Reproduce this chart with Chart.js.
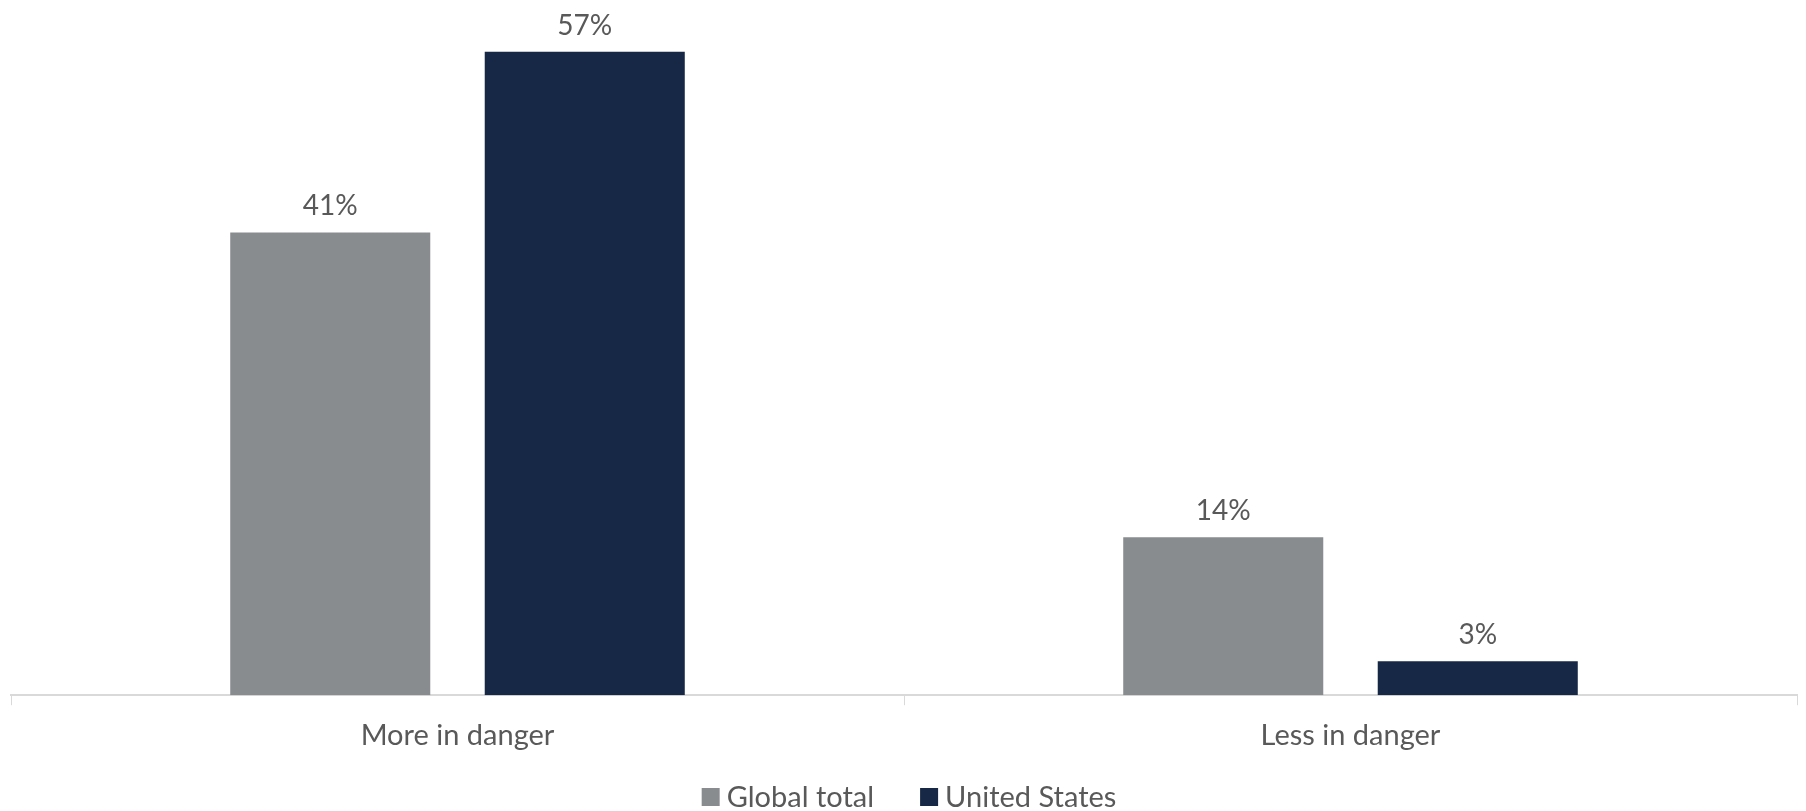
<!DOCTYPE html>
<html>
<head>
<meta charset="utf-8">
<script src="https://cdn.jsdelivr.net/npm/chart.js@4/dist/chart.umd.min.js"></script>
<style>
  html, body { margin: 0; padding: 0; background: #fff; }
  #wrap { width: 1806px; height: 811px; }
</style>
</head>
<body>
<div id="wrap"><canvas id="chart"></canvas></div>
<script>
const categories = ['More in danger', 'Less in danger']
const globalTotal = [41, 14]
const unitedStates = [57, 3]
const seriesNames = ['Global total', 'United States']

const textColor = '#595959'
const fontFamily = 'Lato, "Open Sans", sans-serif'
Chart.defaults.font.family = fontFamily

// draws the "41%" labels above each bar
const valueLabels = {
  id: 'valueLabels',
  afterDatasetsDraw(chart) {
    const ctx = chart.ctx
    ctx.save()
    ctx.font = '28px ' + fontFamily
    ctx.fillStyle = textColor
    ctx.textAlign = 'center'
    ctx.textBaseline = 'bottom'
    chart.data.datasets.forEach((ds, i) => {
      chart.getDatasetMeta(i).data.forEach((bar, j) => {
        ctx.fillText(ds.data[j] + '%', bar.x, bar.y - 12)
      })
    })
    ctx.restore()
  }
}

// legend drawn by hand so the box/text spacing matches the original
const bottomLegend = {
  id: 'bottomLegend',
  afterDraw(chart) {
    const ctx = chart.ctx
    const box = 18, gap = 7, itemGap = 46, y = 797
    ctx.save()
    ctx.font = '29px ' + fontFamily
    ctx.textBaseline = 'middle'
    const items = chart.data.datasets.map(ds => ({
      label: ds.label, color: ds.backgroundColor, w: ctx.measureText(ds.label).width
    }))
    let total = items.reduce((s, it) => s + box + gap + it.w, 0) + itemGap * (items.length - 1)
    let x = chart.width / 2 - total / 2 + 6
    items.forEach(it => {
      ctx.fillStyle = it.color
      ctx.fillRect(x, y - box / 2, box, box)
      ctx.fillStyle = textColor
      ctx.fillText(it.label, x + box + gap, y + 1)
      x += box + gap + it.w + itemGap
    })
    ctx.restore()
  }
}

new Chart(document.getElementById('chart'), {
  type: 'bar',
  data: {
    labels: categories,
    datasets: [
      { label: seriesNames[0], data: globalTotal, backgroundColor: '#898c8e' },
      { label: seriesNames[1], data: unitedStates, backgroundColor: '#162846' }
    ]
  },
  options: {
    responsive: true,
    maintainAspectRatio: false,
    animation: false,
    categoryPercentage: 0.57,
    barPercentage: 0.786,
    layout: { padding: { top: 18, left: 11, right: 9, bottom: 45 } },
    plugins: {
      tooltip: { enabled: false },
      legend: { display: false }
    },
    scales: {
      x: {
        grid: { drawOnChartArea: false, color: '#d9d9d9', tickLength: 10, lineWidth: 1 },
        border: { color: '#d9d9d9', width: 2 },
        ticks: { color: textColor, font: { size: 29 }, padding: 13 }
      },
      y: {
        display: false,
        min: 0,
        max: 60
      }
    }
  },
  plugins: [valueLabels, bottomLegend]
})
</script>
</body>
</html>
